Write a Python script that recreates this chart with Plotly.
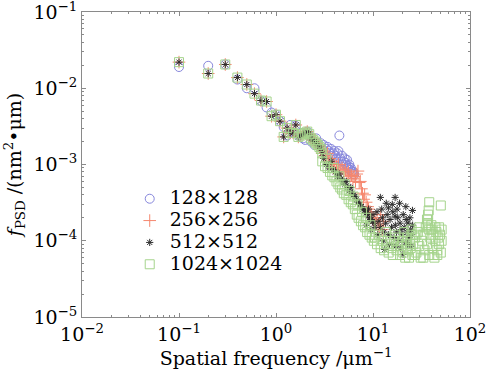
import plotly.graph_objects as go

# ---- data ----
f_low = [0.1, 0.2, 0.3, 0.4, 0.5, 0.6, 0.7, 0.8, 0.9, 1.0,
         1.1, 1.2, 1.3, 1.4, 1.5, 1.6, 1.7, 1.8, 1.9, 2.0,
         2.1, 2.2, 2.3, 2.4, 2.5, 2.6, 2.7, 2.8, 2.9, 3.0]
p_low_common = [0.022, 0.0156, 0.0205, 0.0138, 0.0112, 0.0085, 0.0069, 0.0067, 0.0043, 0.0045,
                0.0037, 0.0023, 0.0030, 0.0026, 0.0026, 0.0033, 0.0023, 0.0024, 0.0025, 0.0026,
                0.0027, 0.0025, 0.0022, 0.0021, 0.0020, 0.0019, 0.0018, 0.0017, 0.0016, 0.0014]

# 128 x 128
f_128 = f_low + [3.1, 3.2, 3.3, 3.4, 3.5, 3.6, 3.7, 3.8, 3.9, 4.0, 4.1, 4.2, 4.3, 4.4, 4.5, 4.6, 4.7,
                 4.8, 4.9, 5.0, 5.1, 5.2, 5.3, 5.4, 5.5, 5.6, 5.7, 5.8, 5.9, 6.0, 6.1, 6.2, 6.3, 6.4]
p_128 = [0.019, 0.0197, 0.0205, 0.013, 0.0100, 0.0100, 0.0068, 0.0056, 0.0048, 0.0045,
         0.0037, 0.0031, 0.0024, 0.0033, 0.0026, 0.0032, 0.0024, 0.0026, 0.0022, 0.0021,
         0.0027, 0.0024, 0.0020, 0.0021, 0.0018, 0.0022, 0.0019, 0.0017, 0.0019, 0.0016,
         0.0018, 0.0015, 0.0016, 0.0017, 0.0015, 0.0014, 0.0016, 0.0013, 0.0014, 0.0015,
         0.0013, 0.0012, 0.0014, 0.0015, 0.0024, 0.0012, 0.0011, 0.0013, 0.0010, 0.0011,
         0.0012, 0.00105, 0.00098, 0.00115, 0.0009, 0.00095, 0.0010, 0.00085, 0.0009, 0.0008,
         0.00082, 0.00075, 0.0008, 0.00074]

# 256 x 256
f_256 = f_low + [3.1, 3.2, 3.3, 3.4, 3.5, 3.6, 3.7, 3.8, 3.9, 4.0, 4.2, 4.4, 4.6, 4.8, 5.0, 5.2,
                 5.4, 5.6, 5.8, 6.0, 6.2, 6.4, 6.6, 6.8, 7.0, 7.2, 7.4, 7.6, 7.8, 8.0, 8.2, 8.5,
                 8.8, 9.0, 9.3, 9.6, 10.0, 10.3, 10.6, 11.0, 11.3, 11.6, 12.0, 12.4, 12.8]
p_256 = p_low_common + [0.0015, 0.0013, 0.0012, 0.0014, 0.0011, 0.0012, 0.0010, 0.0011, 0.0009,
                        0.0010, 0.00095, 0.0010, 0.00085, 0.0009, 0.0008, 0.00085, 0.00075, 0.0008,
                        0.0007, 0.00072, 0.00065, 0.0007, 0.0006, 0.00075, 0.00082, 0.00058, 0.0006,
                        0.00048, 0.00042, 0.00035, 0.0004, 0.00032, 0.00028, 0.00026, 0.00024,
                        0.00022, 0.0002, 0.00019, 0.00017, 0.0002, 0.00016, 0.00015, 0.00022,
                        0.00014, 0.00018]

# 512 x 512
f_512 = f_low + [3.1, 3.3, 3.5, 3.7, 3.9, 4.1, 4.3, 4.5, 4.7, 4.9, 5.1, 5.3, 5.5, 5.7, 5.9, 6.1,
                 6.3, 6.5, 6.8, 7.0, 7.3, 7.6, 7.9, 8.2, 8.5, 8.8, 9.1, 9.5, 9.9, 10.3,
                 11.9, 16.9, 25.5, 14.4, 17.7, 16.9, 22.0, 20.4, 13.2,
                 11.0, 11.5, 12.0, 12.5, 13.0, 13.5, 14.0, 14.5, 15.0, 15.5, 16.0, 16.5, 17.0,
                 17.5, 18.0, 18.5, 19.0, 19.5, 20.0, 20.5, 21.0, 21.5, 22.5, 23.0, 23.5, 24.0,
                 24.5, 25.0, 25.6, 10.5, 10.0, 9.5, 9.0, 8.5, 11.2, 12.8, 14.8, 17.2, 19.2,
                 22.8, 24.8, 15.8, 18.8, 21.8, 12.3, 13.7]
p_512 = p_low_common + [0.0012, 0.0010, 0.0009, 0.0011, 0.00085, 0.0008, 0.0007, 0.00075, 0.00065,
                        0.0006, 0.00055, 0.0006, 0.0005, 0.00045, 0.0005, 0.00042, 0.0004, 0.00038,
                        0.00035, 0.00032, 0.0003, 0.00028, 0.00026, 0.00025, 0.00023, 0.00022,
                        0.0002, 0.00019, 0.00018, 0.00017,
                        3.7e-4, 3.7e-4, 2.5e-4, 2.7e-4, 2.6e-4, 2.1e-4, 1.9e-4, 6.6e-5, 7.7e-5,
                        2.4e-4, 1.8e-4, 1.5e-4, 2.0e-4, 1.3e-4, 1.7e-4, 2.2e-4, 1.2e-4, 1.9e-4,
                        1.5e-4, 2.4e-4, 1.1e-4, 1.6e-4, 1.3e-4, 2.0e-4, 1.0e-4, 1.7e-4, 1.4e-4,
                        1.2e-4, 2.2e-4, 1.5e-4, 9.5e-5, 1.3e-4, 1.7e-4, 1.1e-4, 2.0e-4, 1.4e-4,
                        1.2e-4, 1.6e-4, 1.5e-4, 2.2e-4, 1.4e-4, 2.6e-4, 1.6e-4, 1.2e-4, 1.0e-4,
                        9.0e-5, 8.5e-5, 8.0e-5, 9.0e-5, 8.5e-5, 3.0e-4, 3.1e-4, 2.8e-4, 2.6e-4,
                        3.1e-4]

# 1024 x 1024
f_1024 = f_low + [3.0, 3.2, 3.4, 3.6, 3.8, 4.0, 4.2, 4.4, 4.6, 4.8, 5.0, 5.3, 5.6, 5.9, 6.2, 6.5,
                  6.8, 7.1, 7.5, 7.9, 8.3, 8.7, 9.2, 9.7, 10.2,
                  3.3, 3.9, 4.5, 5.1, 5.7, 6.3, 6.9, 7.7, 8.5, 9.4,
                  10.5, 11.0, 11.5, 12.0, 12.5, 13.0, 13.5, 14.0, 14.5, 15.0, 15.5, 16.0, 16.5,
                  17.0, 17.5, 18.0, 18.5, 19.0, 19.5, 20.0, 20.5, 21.0, 21.5, 22.0, 22.5, 23.0,
                  23.5, 24.0, 24.5, 25.0, 25.5, 26.0, 27.0, 28.0, 29.0, 30.0, 31.0, 32.0, 33.0,
                  34.0, 35.0, 36.0, 37.0, 38.0, 39.0, 40.0, 41.0, 42.0, 43.0, 44.0, 45.0, 46.0,
                  47.0, 48.0, 49.0, 50.0, 51.0,
                  36.0, 37.0, 37.5, 38.0, 50.0, 36.5, 38.0, 40.0, 44.0, 48.0, 51.0, 30.0, 27.0,
                  33.0, 42.0, 46.0, 25.0, 28.0]
p_1024 = p_low_common + [0.0011, 0.00095, 0.0009, 0.0008, 0.00072, 0.00068, 0.0006, 0.00055,
                         0.0005, 0.00047, 0.00042, 0.0004, 0.00035, 0.00032, 0.0003, 0.00026,
                         0.00022, 0.0002, 0.00018, 0.00016, 0.00015, 0.00013, 0.00012, 0.00011,
                         0.0001,
                         0.0012, 0.0009, 0.0007, 0.00055, 0.00045, 0.00038, 0.0003, 0.00024,
                         0.0002, 0.00016,
                         1.1e-4, 9e-5, 1.2e-4, 8e-5, 1.0e-4, 7.5e-5, 1.3e-4, 9e-5, 7e-5, 1.1e-4,
                         8e-5, 6.5e-5, 1.0e-4, 1.2e-4, 7.5e-5, 9e-5, 1.1e-4, 6.5e-5, 8.5e-5,
                         1.0e-4, 7e-5, 1.3e-4, 6e-5, 9e-5, 1.1e-4, 7.5e-5, 6e-5, 1.0e-4, 8e-5,
                         1.2e-4, 6.5e-5, 9e-5, 1.1e-4, 7e-5, 1.3e-4, 8.5e-5, 6e-5, 1.0e-4, 1.2e-4,
                         7.5e-5, 1.5e-4, 9e-5, 1.7e-4, 6.5e-5, 1.1e-4, 1.4e-4, 8e-5, 1.2e-4, 6e-5,
                         1.0e-4, 1.3e-4, 7.5e-5, 1.1e-4, 9e-5, 1.2e-4, 7e-5, 1.0e-4,
                         1.9e-4, 2.2e-4, 2.5e-4, 3.2e-4, 2.9e-4, 1.6e-4, 1.4e-4, 1.6e-4, 1.5e-4,
                         1.5e-4, 1.4e-4, 1.5e-4, 6.5e-5, 6e-5, 6.5e-5, 6.5e-5, 1.4e-4, 1.2e-4]

series_names = ["128×128", "256×256", "512×512", "1024×1024"]
series_x = [f_128, f_256, f_512, f_1024]
series_y = [p_128, p_256, p_512, p_1024]

x_tickvals = [0.01, 0.1, 1, 10, 100]
x_ticktext = ["10<sup>−2</sup>", "10<sup>−1</sup>", "10<sup>0</sup>", "10<sup>1</sup>", "10<sup>2</sup>"]
y_tickvals = [1e-5, 1e-4, 1e-3, 1e-2, 1e-1]
y_ticktext = ["10<sup>−5</sup>", "10<sup>−4</sup>", "10<sup>−3</sup>", "10<sup>−2</sup>", "10<sup>−1</sup>"]

# minor tick positions (2..9 within each decade)
x_minor = [m * d for d in [0.01, 0.1, 1, 10] for m in range(2, 10)]
y_minor = [m * d for d in [1e-5, 1e-4, 1e-3, 1e-2] for m in range(2, 10)]

symbols = ["circle-open", "cross-thin-open", "asterisk-open", "square-open"]
colors = ["rgb(135,135,220)", "rgb(245,135,110)", "rgb(45,45,45)", "rgb(165,212,140)"]
sizes = [9, 9, 6, 9]

FONT = "DejaVu Serif"
TXT = 19

fig = go.Figure()
for name, xs, ys, sym, col, sz in zip(series_names, series_x, series_y, symbols, colors, sizes):
    fig.add_trace(go.Scatter(
        x=xs, y=ys, mode="markers",
        name=f'<span style="font-size:{TXT}px">{name}</span>',
        marker=dict(symbol=sym, size=sz, color=col, line=dict(color=col, width=1)),
    ))

axis_common = dict(
    type="log", showgrid=False, zeroline=False, automargin=False,
    showline=True, linecolor="#8a8a8a", linewidth=1, mirror="ticks",
    ticks="inside", ticklen=4, tickcolor="#8a8a8a", tickwidth=1,
    ticklabeloverflow="allow",
    tickfont=dict(family=FONT, size=TXT, color="black"),
)

fig.update_xaxes(range=[-2, 2], tickmode="array", tickvals=x_tickvals, ticktext=x_ticktext,
                 minor=dict(tickmode="array", tickvals=x_minor, ticks="inside", ticklen=2,
                            tickcolor="#8a8a8a", tickwidth=1, showgrid=False),
                 **axis_common,
                 title=dict(text="Spatial frequency /μm<sup>−1</sup>",
                            font=dict(family=FONT, size=TXT, color="black"), standoff=2))
fig.update_yaxes(range=[-5, -1], tickmode="array", tickvals=y_tickvals, ticktext=y_ticktext,
                 minor=dict(tickmode="array", tickvals=y_minor, ticks="inside", ticklen=2,
                            tickcolor="#8a8a8a", tickwidth=1, showgrid=False),
                 **axis_common,
                 title=dict(text="<i>f</i><sub>PSD</sub> /(nm<sup>2</sup>•μm)",
                            font=dict(family=FONT, size=TXT, color="black"), standoff=6))

fig.update_layout(
    width=488, height=373,
    margin=dict(l=82, r=18, t=12, b=56),
    paper_bgcolor="white", plot_bgcolor="white",
    showlegend=True,
    legend=dict(x=0.123, y=0.44, xanchor="left", yanchor="top",
                bgcolor="rgba(0,0,0,0)", borderwidth=0,
                font=dict(family=FONT, size=14.5, color="black"),
                tracegroupgap=0, itemsizing="trace"),
)

fig.write_html("out.html")
